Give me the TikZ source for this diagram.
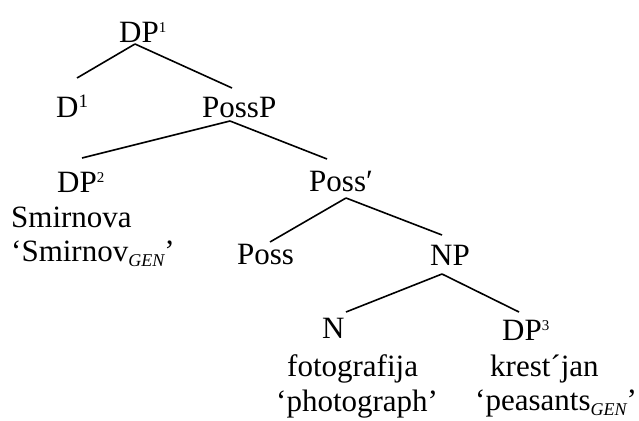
\documentclass[tikz,border=0pt]{standalone}
\usepackage{fontspec}
\setmainfont{Liberation Serif}
\newcommand\ssup[1]{\raisebox{9.5pt}{\fontsize{15}{15}\selectfont #1}}
\newcommand\bsup[1]{\raisebox{10pt}{\fontsize{19}{19}\selectfont #1}}
\newcommand\gensub{\raisebox{-5pt}{\fontsize{18}{18}\selectfont\itshape GEN}}
\begin{document}
\begin{tikzpicture}[x=1pt,y=-1pt,
  lab/.style={anchor=base west,inner sep=0pt,font=\fontsize{31}{37}\selectfont},
  edge/.style={line width=1.6pt}]
\useasboundingbox (0,0) rectangle (639,420);
\node[lab] (dp1) at (119,42) {DP\ssup{1}};
\node[lab] (d1) at (56,117) {D\bsup{1}};
\node[lab] (possp) at (202,117) {PossP};
\node[lab] (dp2) at (57,192) {DP\ssup{2}};
\node[lab] (smir) at (11,227) {Smirnova};
\node[lab] (smirgl) at (11,261) {‘Smirnov\gensub’};
\node[lab] (possbar) at (309,191) {Poss′};
\node[lab] (poss) at (237,264) {Poss};
\node[lab] (np) at (430,265) {NP};
\node[lab] (n) at (322,338) {N};
\node[lab] (foto) at (287,376) {fotografija};
\node[lab] (fotogl) at (276,411) {‘photograph’};
\node[lab] (dp3) at (502,340) {DP\ssup{3}};
\node[lab] (krest) at (490,376) {krest´jan};
\node[lab] (krestgl) at (475,410) {‘peasants\gensub’};
\draw[edge] ([shift={(16,2)}]dp1.base west) -- ([shift={(21,-39)}]d1.base west);
\draw[edge] ([shift={(16,2)}]dp1.base west) -- ([shift={(30,-29)}]possp.base west);
\draw[edge] ([shift={(28,4)}]possp.base west) -- ([shift={(25,-34)}]dp2.base west);
\draw[edge] ([shift={(28,4)}]possp.base west) -- ([shift={(18,-32)}]possbar.base west);
\draw[edge] ([shift={(37,7)}]possbar.base west) -- ([shift={(33,-22)}]poss.base west);
\draw[edge] ([shift={(37,7)}]possbar.base west) -- ([shift={(12,-30)}]np.base west);
\draw[edge] ([shift={(12,9)}]np.base west) -- ([shift={(24,-26)}]n.base west);
\draw[edge] ([shift={(12,9)}]np.base west) -- ([shift={(17,-28)}]dp3.base west);
\end{tikzpicture}
\end{document}
